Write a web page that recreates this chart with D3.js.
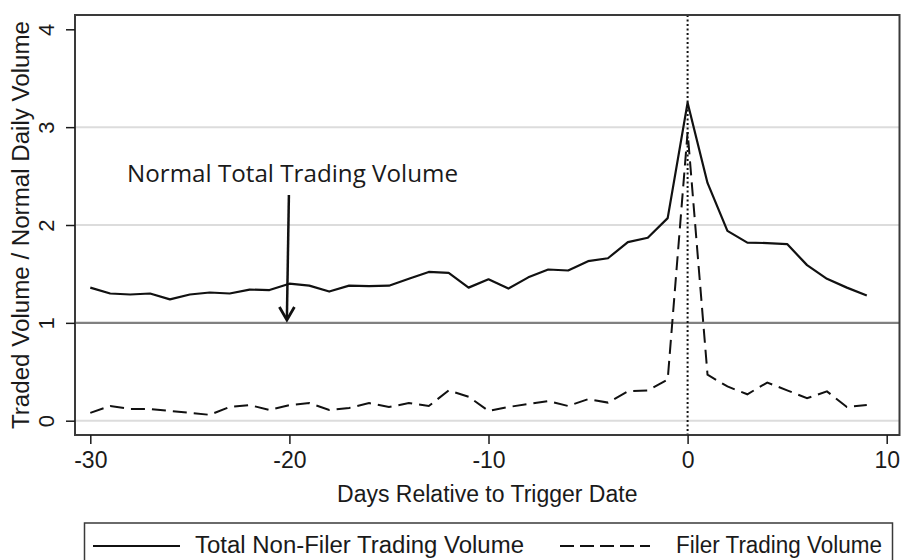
<!DOCTYPE html>
<html>
<head>
<meta charset="utf-8">
<script src="https://cdn.jsdelivr.net/npm/d3@7"></script>
<style>
  html, body { margin: 0; padding: 0; background: #fff; }
  svg { display: block; }
  text { fill: #1a1a1a; }
</style>
</head>
<body>
<svg id="chart" width="901" height="560"></svg>
<script>
// ---- data ----
const days = [-30,-29,-28,-27,-26,-25,-24,-23,-22,-21,-20,-19,-18,-17,-16,-15,-14,-13,-12,-11,
              -10,-9,-8,-7,-6,-5,-4,-3,-2,-1,0,1,2,3,4,5,6,7,8,9];
const nonFiler = [1.36,1.30,1.29,1.30,1.24,1.29,1.31,1.30,1.34,1.335,1.40,1.38,1.32,1.38,1.375,1.38,1.45,1.52,1.51,1.36,
                  1.445,1.35,1.465,1.545,1.535,1.63,1.66,1.825,1.87,2.07,3.25,2.43,1.94,1.82,1.815,1.805,1.59,1.45,1.36,1.28];
const filer = [0.08,0.15,0.12,0.12,0.10,0.08,0.06,0.14,0.16,0.11,0.16,0.18,0.11,0.13,0.18,0.14,0.18,0.15,0.31,0.245,
               0.10,0.14,0.17,0.20,0.15,0.22,0.185,0.30,0.31,0.42,2.95,0.47,0.35,0.27,0.39,0.31,0.23,0.30,0.14,0.16];
const xTicks = [-30,-20,-10,0,10];
const yTicks = [0,1,2,3,4];
const gridValues = [0,2,3];
const normalLevel = 1;
const triggerDay = 0;
const seriesNames = ["Total Non-Filer Trading Volume", "Filer Trading Volume"];
const annotationText = "Normal Total Trading Volume";
const annotationDay = -20;
const xTitle = "Days Relative to Trigger Date";
const yTitle = "Traded Volume / Normal Daily Volume";

const SANS = "'Liberation Sans', Arial, sans-serif";
const fmt = d => String(d);  // plain hyphen-minus as in the reference

// ---- layout ----
const svg = d3.select("#chart");
const frame = {left: 75, right: 899.5, top: 15, bottom: 435};
const x = d3.scaleLinear().domain([-30, 10]).range([90.3, 886.7]);
const y = d3.scaleLinear().domain([0, 4]).range([420.7, 29.3]);

// gridlines
svg.append("g").selectAll("line").data(gridValues).join("line")
  .attr("x1", frame.left).attr("x2", frame.right)
  .attr("y1", d => y(d)).attr("y2", d => y(d))
  .attr("stroke", "#dcdcdc").attr("stroke-width", 2);

// normal volume line
svg.append("line")
  .attr("x1", frame.left).attr("x2", frame.right)
  .attr("y1", y(normalLevel)).attr("y2", y(normalLevel))
  .attr("stroke", "#808080").attr("stroke-width", 2.2);

// trigger dotted line
svg.append("line")
  .attr("x1", x(triggerDay)).attr("x2", x(triggerDay))
  .attr("y1", frame.top).attr("y2", frame.bottom)
  .attr("stroke", "#111").attr("stroke-width", 2).attr("stroke-dasharray", "2,2.5");

// series
const line = d3.line().x((d, i) => x(days[i])).y(d => y(d));
svg.append("path").datum(filer)
  .attr("d", line).attr("fill", "none")
  .attr("stroke", "#111").attr("stroke-width", 2)
  .attr("stroke-dasharray", "14,7");
svg.append("path").datum(nonFiler)
  .attr("d", line).attr("fill", "none")
  .attr("stroke", "#111").attr("stroke-width", 2.2)
  .attr("stroke-linejoin", "round");

// frame
svg.append("rect")
  .attr("x", frame.left).attr("y", frame.top)
  .attr("width", frame.right - frame.left).attr("height", frame.bottom - frame.top)
  .attr("fill", "none").attr("stroke", "#3a3a3a").attr("stroke-width", 2);

// x axis
const xAxis = d3.axisBottom(x).tickValues(xTicks).tickSize(9).tickFormat(fmt);
const gx = svg.append("g").attr("transform", `translate(0,${frame.bottom})`).call(xAxis);
gx.select(".domain").remove();
gx.selectAll(".tick line").attr("stroke", "#1a1a1a").attr("stroke-width", 1.5);
gx.selectAll(".tick text").attr("font-size", 23).attr("fill", "#1a1a1a")
  .attr("font-family", SANS)
  .attr("dy", null).attr("y", 33);

// y axis
const yAxis = d3.axisLeft(y).tickValues(yTicks).tickSize(9).tickFormat(fmt);
const gy = svg.append("g").attr("transform", `translate(${frame.left},0)`).call(yAxis);
gy.select(".domain").remove();
gy.selectAll(".tick line").attr("stroke", "#1a1a1a").attr("stroke-width", 1.5);
gy.selectAll(".tick text")
  .attr("font-size", 22).attr("fill", "#1a1a1a")
  .attr("font-family", SANS)
  .attr("x", null).attr("dy", null)
  .attr("text-anchor", "middle")
  .attr("transform", "translate(-21,0) rotate(-90)");

// axis titles
svg.append("text")
  .attr("x", (frame.left + frame.right) / 2).attr("y", 502)
  .attr("text-anchor", "middle").attr("font-size", 23).attr("font-family", SANS)
  .text(xTitle);
svg.append("text")
  .attr("transform", `translate(29,225) rotate(-90)`)
  .attr("text-anchor", "middle").attr("font-size", 23.5).attr("font-family", SANS)
  .attr("textLength", 408).attr("lengthAdjust", "spacingAndGlyphs")
  .text(yTitle);

// annotation
svg.append("text")
  .attr("x", 127).attr("y", 182)
  .attr("font-family", "'Open Sans', sans-serif").attr("font-size", 23)
  .attr("textLength", 331).attr("lengthAdjust", "spacingAndGlyphs")
  .text(annotationText);
const ax0 = x(annotationDay) - 0.5, ay0 = 195, ax1 = x(annotationDay) - 2.5, ay1 = 320;
svg.append("line").attr("x1", ax0).attr("y1", ay0).attr("x2", ax1).attr("y2", ay1 - 2)
  .attr("stroke", "#111").attr("stroke-width", 2.5);
svg.append("path")
  .attr("d", `M${ax1 - 7.5},${ay1 - 13} L${ax1},${ay1} L${ax1 + 7.5},${ay1 - 13}`)
  .attr("fill", "none").attr("stroke", "#111").attr("stroke-width", 2.8)
  .attr("stroke-linejoin", "miter");

// legend
const lg = svg.append("g");
lg.append("rect").attr("x", 84.5).attr("y", 523).attr("width", 808).attr("height", 50)
  .attr("fill", "#fff").attr("stroke", "#3a3a3a").attr("stroke-width", 1.5);
lg.append("line").attr("x1", 93).attr("x2", 180).attr("y1", 546).attr("y2", 546)
  .attr("stroke", "#111").attr("stroke-width", 2.2);
lg.append("text").attr("x", 195).attr("y", 553).attr("font-size", 23).attr("font-family", SANS)
  .attr("textLength", 329).attr("lengthAdjust", "spacingAndGlyphs")
  .text(seriesNames[0]);
lg.append("line").attr("x1", 560).attr("x2", 650).attr("y1", 546).attr("y2", 546)
  .attr("stroke", "#111").attr("stroke-width", 2.2).attr("stroke-dasharray", "14,6");
lg.append("text").attr("x", 676).attr("y", 553).attr("font-size", 23).attr("font-family", SANS)
  .attr("textLength", 206).attr("lengthAdjust", "spacingAndGlyphs")
  .text(seriesNames[1]);
</script>
</body>
</html>
